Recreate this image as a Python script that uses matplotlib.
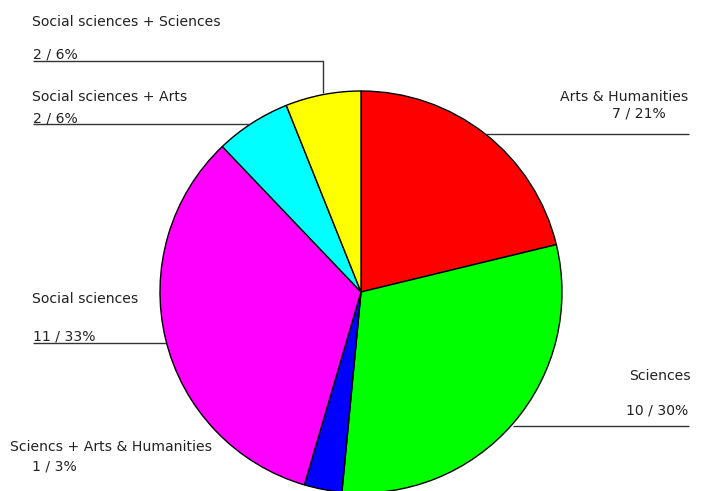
import matplotlib
matplotlib.use("Agg")
import matplotlib.pyplot as plt

# Degree combinations of respondents
categories = [
    "Arts & Humanities",
    "Sciences",
    "Sciencs + Arts & Humanities",
    "Social sciences",
    "Social sciences + Arts",
    "Social sciences + Sciences",
]
counts = [7, 10, 1, 11, 2, 2]
colors = ["#ff0000", "#00ff00", "#0000ff", "#ff00ff", "#00ffff", "#ffff00"]

W, H = 719, 491
fig = plt.figure(figsize=(W / 100, H / 100), dpi=100)
ax = fig.add_axes([0, 0, 1, 1])

def Y(y):
    return H - y

cx, cy, r = 361, 292, 201
ax.pie(counts, colors=colors, startangle=90, counterclock=False,
       center=(cx, Y(cy)), radius=r, frame=True,
       wedgeprops=dict(edgecolor="black", linewidth=1.0))
ax.set_xlim(0, W)
ax.set_ylim(0, H)
ax.set_aspect("equal")
ax.axis("off")

total = sum(counts)
labels = [f"{c} / {round(100 * c / total)}%" for c in counts]

fs = 10.1
tc = "#222222"
font = dict(fontsize=fs, color=tc, family="DejaVu Sans", va="center")

# name and value placements: (x, y, ha)
layout = {
    "Arts & Humanities": ((688, 97, "right"), (666, 113, "right")),
    "Sciences": ((691, 376, "right"), (688, 411, "right")),
    "Sciencs + Arts & Humanities": ((10, 447, "left"), (32, 467, "left")),
    "Social sciences": ((32, 299, "left"), (33, 336, "left")),
    "Social sciences + Arts": ((32, 97, "left"), (33, 118, "left")),
    "Social sciences + Sciences": ((32, 22, "left"), (33, 54, "left")),
}
for cat, lab in zip(categories, labels):
    (nx, ny, nha), (vx, vy, vha) = layout[cat]
    ax.text(nx, Y(ny), cat, ha=nha, **font)
    ax.text(vx, Y(vy), lab, ha=vha, **font)

# leader lines
lc = "#333333"
lw = 1.0
leaders = [
    [(486, 134), (689, 134)],
    [(513, 426), (689, 426)],
    [(33, 343), (166, 343)],
    [(33, 124), (250, 124)],
    [(33, 61), (323, 61), (323, 93)],
]
for pts in leaders:
    xs = [p[0] for p in pts]
    ys = [Y(p[1]) for p in pts]
    ax.plot(xs, ys, color=lc, linewidth=lw, solid_capstyle="butt")

fig.savefig("out.png", dpi=100, facecolor="white")
